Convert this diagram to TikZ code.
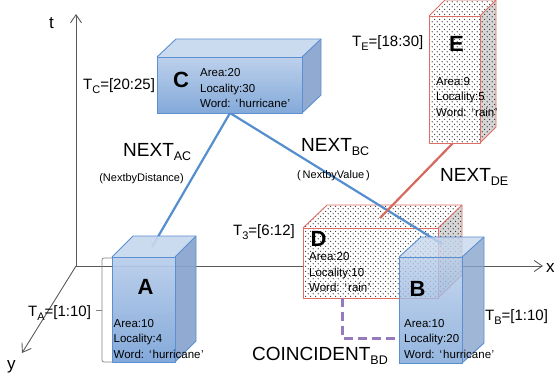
\documentclass[tikz,border=0pt]{standalone}
\usepackage{fontspec}
\setmainfont{Liberation Sans}
\usetikzlibrary{patterns,arrows.meta,calc}

\definecolor{bedge}{RGB}{91,143,207}
\definecolor{bfronttop}{RGB}{184,205,234}
\definecolor{bfrontbot}{RGB}{122,163,215}
\definecolor{btopc}{RGB}{198,215,238}
\definecolor{bside}{RGB}{136,164,205}
\definecolor{redge}{RGB}{222,110,100}
\definecolor{rline}{RGB}{214,104,94}
\definecolor{bline}{RGB}{84,142,206}
\definecolor{pline}{RGB}{150,122,190}
\definecolor{axisc}{RGB}{90,90,90}
\definecolor{brackc}{RGB}{130,130,130}

\pgfdeclarepatternformonly{stagdots}{\pgfpointorigin}{\pgfpoint{5.4pt}{5.4pt}}{\pgfpoint{5.4pt}{5.4pt}}{%
  \pgfpathcircle{\pgfpoint{1.35pt}{1.35pt}}{0.6pt}%
  \pgfpathcircle{\pgfpoint{4.05pt}{4.05pt}}{0.6pt}%
  \pgfusepath{fill}}

\newcommand{\mkbox}[7]{%
  \coordinate (#1ftl) at (#2,#3);
  \coordinate (#1ftr) at (#4,#3);
  \coordinate (#1fbr) at (#4,#5);
  \coordinate (#1fbl) at (#2,#5);
  \coordinate (#1btl) at (#2+#6,#3-#7);
  \coordinate (#1btr) at (#4+#6,#3-#7);
  \coordinate (#1bbr) at (#4+#6,#5-#7);
}
\newcommand{\bluebox}[2]{%
  \shade[top color=bfronttop, bottom color=bfrontbot, fill opacity=#2]
    (#1ftl) -- (#1ftr) -- (#1fbr) -- (#1fbl) -- cycle;
  \fill[btopc, fill opacity=#2] (#1ftl) -- (#1btl) -- (#1btr) -- (#1ftr) -- cycle;
  \fill[bside, fill opacity=#2] (#1ftr) -- (#1btr) -- (#1bbr) -- (#1fbr) -- cycle;
  \draw[boxedge] (#1ftl) -- (#1ftr) -- (#1fbr) -- (#1fbl) -- cycle;
  \draw[boxedge] (#1ftl) -- (#1btl) -- (#1btr) -- (#1bbr) -- (#1fbr);
  \draw[boxedge] (#1btr) -- (#1ftr);
}
\newcommand{\redbox}[1]{%
  \fill[white] (#1ftl) -- (#1ftr) -- (#1fbr) -- (#1fbl) -- cycle;
  \fill[white] (#1ftl) -- (#1btl) -- (#1btr) -- (#1ftr) -- cycle;
  \fill[black!16] (#1ftr) -- (#1btr) -- (#1bbr) -- (#1fbr) -- cycle;
  \fill[pattern=stagdots, pattern color=black] (#1fbl) -- (#1ftl) -- (#1btl) -- (#1btr) -- (#1bbr) -- (#1fbr) -- cycle;
  \draw[redboxedge] (#1ftl) -- (#1ftr) -- (#1fbr) -- (#1fbl) -- cycle;
  \draw[redboxedge] (#1ftl) -- (#1btl) -- (#1btr) -- (#1bbr) -- (#1fbr);
  \draw[redboxedge] (#1btr) -- (#1ftr);
}
\newcommand{\attrs}[6]{%
  \node[attr] (#1a) at (#2,#3) {#4};
  \node[attr] (#1b) at (#2,#3+15.5) {#5};
  \node[attr] (#1c) at (#2,#3+31) {#6};
}
\newcommand{\lsub}[3]{\raisebox{-#1}{\fontsize{#2}{#2}\selectfont #3}}
\newcommand{\qw}[1]{\hspace{5pt}‘\hspace{1pt}#1\hspace{0.5pt}’}

\tikzset{
  boxedge/.style={draw=bedge, line width=0.9pt, line join=round},
  redboxedge/.style={draw=redge, line width=0.9pt, line join=round},
  attr/.style={anchor=base west, inner sep=0pt, font=\fontsize{11.5}{11.5}\selectfont},
  boxletter/.style={inner sep=0pt, font=\fontsize{22}{22}\selectfont\bfseries},
  tlabel/.style={anchor=base west, inner sep=0pt, font=\fontsize{15}{15}\selectfont},
  nextlabel/.style={anchor=base west, inner sep=0pt, font=\fontsize{19}{19}\selectfont},
  smalllabel/.style={anchor=base, inner sep=0pt, font=\fontsize{11}{11}\selectfont},
  axislabel/.style={anchor=base west, inner sep=0pt, font=\fontsize{17}{17}\selectfont},
  axisline/.style={draw=axisc, line width=0.9pt, -{Straight Barb[length=8pt,width=11pt,line width=0.9pt]}},
  conn/.style={line width=2.2pt},
}

\begin{document}
\begin{tikzpicture}[x=1pt,y=-1pt]
\useasboundingbox (0,0) rectangle (556,380);

% axes
\coordinate (O) at (76,266);
\coordinate (tend) at (76,14);
\coordinate (xend) at (543,266);
\coordinate (yend) at (22,353);
\draw[axisline] (O) -- (tend);
\draw[axisline] (O) -- (xend);
\draw[axisline] (O) -- (yend);
\node[axislabel] (tl) at (49,28) {t};
\node[axislabel] (xl) at (546,272) {x};
\node[axislabel] (yl) at (7,369) {y};

% bracket for A
\coordinate (brT) at (112,258);
\coordinate (brB) at (112,362);
\coordinate (brM) at (102,310);
\coordinate (brTick) at (96,310);
\draw[brackc, line width=0.7pt, rounded corners=2pt] (brT) -- (102,258) -- (102,362) -- (brB);
\draw[brackc, line width=0.7pt] (brM) -- (brTick);

% box geometry
\mkbox{A}{112}{257}{175}{362}{21}{21}
\mkbox{B}{399}{257}{462}{363}{22}{20}
\mkbox{C}{157}{57}{302}{113}{19}{18}
\mkbox{D}{303}{228}{438}{298}{24}{23}
\mkbox{E}{429}{16}{480}{143}{16}{16}

% connector ends
\coordinate (Cbot) at (230,113);
\coordinate (Atop) at (152,247);
\coordinate (Btop) at (442,244);
\coordinate (Ebot) at (453,143);
\coordinate (Dtop) at (380,218);
\coordinate (Dbot) at (342,298);
\coordinate (Bleft) at (399,338);

\redbox{D}

\draw[conn, bline] (Cbot) -- (Atop);
\draw[conn, bline] (Cbot) -- (Btop);
\draw[conn, rline] (Ebot) -- (Dtop);
\draw[conn, pline, line width=3pt, dash pattern=on 9pt off 5pt] (Dbot) |- (Bleft);

\bluebox{A}{0.93}
\bluebox{B}{0.8}
\bluebox{C}{0.93}
\redbox{E}

% box letters
\node[boxletter] (Al) at (145.5,286.5) {A};
\node[boxletter] (Bl) at (417.5,289) {B};
\node[boxletter] (Cl) at (181,80) {C};
\node[boxletter] (Dl) at (318.5,239) {D};
\node[boxletter] (El) at (456.5,44) {E};

% attributes
\attrs{A}{113.5}{327}{Area:10}{Locality:4}{Word:\qw{hurricane}}
\attrs{B}{404}{327}{Area:10}{Locality:20}{Word:\qw{hurricane}}
\attrs{C}{200}{76.5}{Area:20}{Locality:30}{Word:\qw{hurricane}}
\attrs{D}{309}{260.5}{Area:20}{Locality:10}{Word:\qw{rain}}
\attrs{E}{436}{85}{Area:9}{Locality:5}{Word:\qw{rain}}

% time labels
\node[tlabel] (TA) at (28,316) {T\lsub{4pt}{11}{A}=[1:10]};
\node[tlabel] (TB) at (485,320.5) {T\lsub{4pt}{11}{B}=[1:10]};
\node[tlabel] (TC) at (83,89.5) {T\lsub{4pt}{11}{C}=[20:25]};
\node[tlabel] (TE) at (352,46.5) {T\lsub{4pt}{11}{E}=[18:30]};
\node[tlabel] (T3) at (233,235) {T\lsub{4pt}{11}{3}=[6:12]};

% relation labels
\node[nextlabel] (nAC) at (123,156) {NEXT\lsub{4pt}{12.5}{AC}};
\node[smalllabel] (nACs) at (141.5,181.5) {(NextbyDistance)};
\node[nextlabel] (nBC) at (301,151.5) {NEXT\lsub{4pt}{12.5}{BC}};
\node[smalllabel] (nBCs) at (333.5,178) {(\,NextbyValue\,)};
\node[nextlabel] (nDE) at (440,181.5) {NEXT\lsub{4pt}{12.5}{DE}};
\node[nextlabel] (cBD) at (252,360) {COINCIDENT\lsub{4pt}{12.5}{BD}};
\end{tikzpicture}
\end{document}
